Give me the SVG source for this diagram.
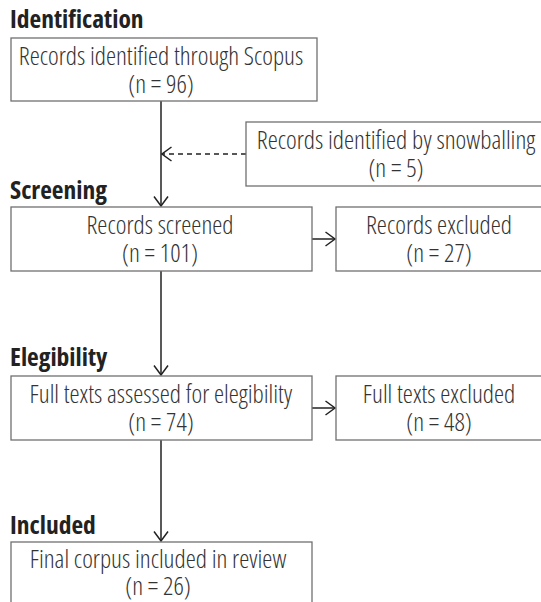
<svg xmlns="http://www.w3.org/2000/svg" width="541" height="602" viewBox="0 0 541 602">
  <style>
    .box { fill: #ffffff; stroke: #707070; stroke-width: 1.3; }
    .lbl { font-family: "Open Sans", "Liberation Sans Narrow", "DejaVu Sans Condensed", sans-serif; font-stretch: 75%; font-weight: 300; font-size: 25.5px; fill: #333333; text-anchor: middle; }
    .hdr { font-family: "Open Sans", "Liberation Sans Narrow", "DejaVu Sans Condensed", sans-serif; font-stretch: 75%; font-weight: 700; font-size: 25.5px; fill: #222222; }
    .conn { stroke: #222222; stroke-width: 1.5; fill: none; }
    .dash { stroke-dasharray: 5 4; stroke-width: 1.7; }
  </style>
  <defs>
    <marker id="arrow" viewBox="0 0 12 16" refX="10.5" refY="8" markerWidth="12" markerHeight="16" markerUnits="userSpaceOnUse" orient="auto">
      <path d="M1,1 L10.5,8 L1,15" fill="none" stroke="#222222" stroke-width="1.5"/>
    </marker>
  </defs>

  <!-- stage headings -->
  <g id="headings">
    <text class="hdr" x="10" y="28">Identification</text>
    <text class="hdr" x="10" y="199">Screening</text>
    <text class="hdr" x="10" y="366">Elegibility</text>
    <text class="hdr" x="10" y="534">Included</text>
  </g>

  <!-- connectors -->
  <g id="connectors">
    <line class="conn" x1="161" y1="101" x2="161" y2="206" marker-end="url(#arrow)"/>
    <line class="conn dash" x1="246" y1="154" x2="162" y2="154" marker-end="url(#arrow)"/>
    <line class="conn" x1="312" y1="239" x2="335" y2="239" marker-end="url(#arrow)"/>
    <line class="conn" x1="161" y1="271" x2="161" y2="375" marker-end="url(#arrow)"/>
    <line class="conn" x1="312" y1="408" x2="335" y2="408" marker-end="url(#arrow)"/>
    <line class="conn" x1="161" y1="440" x2="161" y2="541" marker-end="url(#arrow)"/>
  </g>

  <g id="scopus">
    <rect class="box" x="11" y="38" width="306" height="63"/>
    <text class="lbl" x="161" y="65">Records identified through Scopus</text>
    <text class="lbl" x="161" y="93">(n = 96)</text>
  </g>

  <g id="snowballing">
    <rect class="box" x="246" y="122" width="300" height="64"/>
    <text class="lbl" x="396" y="149">Records identified by snowballing</text>
    <text class="lbl" x="396" y="177">(n = 5)</text>
  </g>

  <g id="screened">
    <rect class="box" x="11" y="207" width="301" height="64"/>
    <text class="lbl" x="160" y="234">Records screened</text>
    <text class="lbl" x="160" y="262">(n = 101)</text>
  </g>

  <g id="excluded">
    <rect class="box" x="336" y="207" width="210" height="64"/>
    <text class="lbl" x="439" y="234">Records excluded</text>
    <text class="lbl" x="439" y="262">(n = 27)</text>
  </g>

  <g id="assessed">
    <rect class="box" x="11" y="376" width="301" height="64"/>
    <text class="lbl" x="161" y="403">Full texts assessed for elegibility</text>
    <text class="lbl" x="161" y="431">(n = 74)</text>
  </g>

  <g id="texts-excluded">
    <rect class="box" x="336" y="376" width="210" height="64"/>
    <text class="lbl" x="439" y="403">Full texts excluded</text>
    <text class="lbl" x="439" y="431">(n = 48)</text>
  </g>

  <g id="final">
    <rect class="box" x="11" y="542" width="301" height="70"/>
    <text class="lbl" x="158" y="568">Final corpus included in review</text>
    <text class="lbl" x="158" y="595">(n = 26)</text>
  </g>
</svg>
